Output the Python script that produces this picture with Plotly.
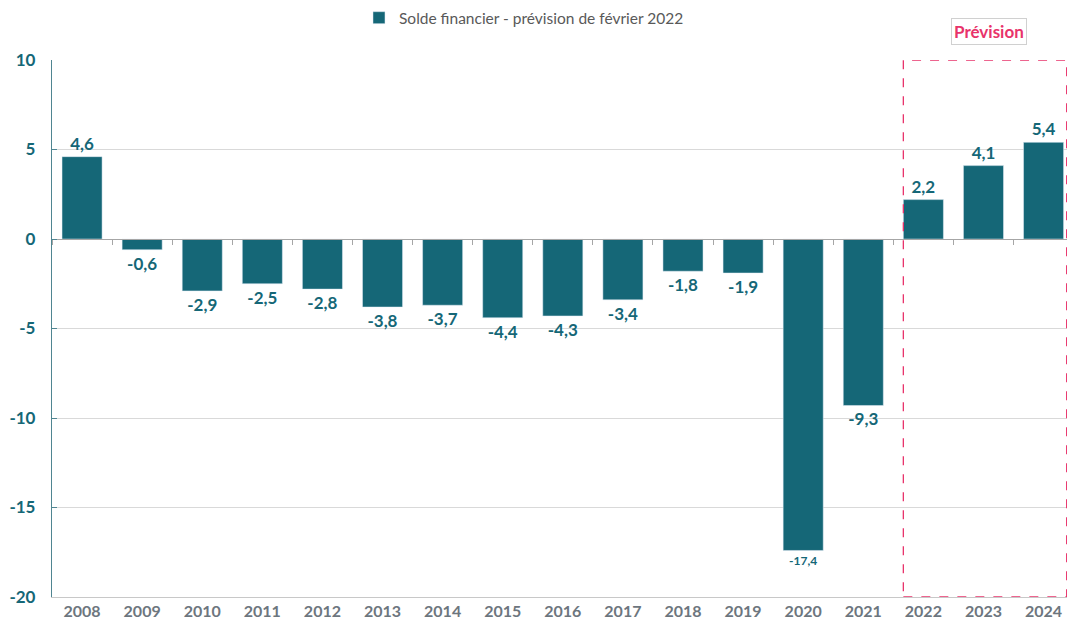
import plotly.graph_objects as go

years = ["2008", "2009", "2010", "2011", "2012", "2013", "2014", "2015", "2016",
         "2017", "2018", "2019", "2020", "2021", "2022", "2023", "2024"]
solde = [4.6, -0.6, -2.9, -2.5, -2.8, -3.8, -3.7, -4.4, -4.3,
         -3.4, -1.8, -1.9, -17.4, -9.3, 2.2, 4.1, 5.4]
y_ticks = [10, 5, 0, -5, -10, -15, -20]
label_sizes = [17 if abs(v) < 15 else 12 for v in solde]

TEAL = "#156777"
PINK = "#e8336b"
GREY_TXT = "#6d767e"
FONT = "Lato"

fig = go.Figure()

fig.add_trace(
    go.Bar(
        x=years,
        y=solde,
        name="Solde financier - prévision de février 2022",
        marker=dict(color=TEAL),
        texttemplate="%{y:.1f}",
        textposition="outside",
        textfont=dict(family=FONT, size=label_sizes, color=TEAL, weight="bold"),
        cliponaxis=False,
    )
)

# invisible trace so the zero-line axis (with boundary ticks) gets drawn
fig.add_trace(
    go.Scatter(x=years, y=[0] * len(years), xaxis="x2", mode="lines",
               line=dict(width=0), showlegend=False, hoverinfo="skip")
)

# forecast frame
fig.add_shape(
    type="rect", xref="x", yref="y",
    x0=14 - 1 / 3, x1=16.385, y0=-20, y1=10,
    line=dict(color=PINK, width=1.3, dash="dash"),
    layer="above",
)

fig.add_annotation(
    text="<b>Prévision</b>", xref="paper", yref="paper",
    x=0.923, y=1.054, xanchor="center", yanchor="middle", showarrow=False,
    font=dict(family=FONT, size=17, color=PINK),
    bordercolor="#d0d0d0", borderwidth=1, borderpad=2,
)

fig.update_layout(
    width=1067,
    height=628,
    margin=dict(l=52, r=0, t=60, b=31, autoexpand=False),
    plot_bgcolor="white",
    paper_bgcolor="white",
    separators=", ",
    bargap=1 / 3,
    font=dict(family=FONT),
    legend=dict(
        orientation="h", x=0.465, xanchor="center", y=1.078, yanchor="middle",
        font=dict(family=FONT, size=15.5, color="#595959"),
    ),
    xaxis=dict(
        type="category",
        range=[-0.5, 16.39],
        showgrid=False,
        showline=True,
        linecolor="#c8c8c8",
        linewidth=1,
        ticks="",
        tickfont=dict(family=FONT, size=16, color=GREY_TXT, weight="bold"),
    ),
    xaxis2=dict(
        type="category",
        overlaying="x",
        matches="x",
        anchor="free",
        position=2 / 3,
        showgrid=False,
        showline=True,
        linecolor="#a6a6a6",
        linewidth=1.3,
        ticks="outside",
        tickson="boundaries",
        ticklen=5,
        tickcolor="#a6a6a6",
        showticklabels=False,
    ),
    yaxis=dict(
        range=[-20, 10],
        tickvals=y_ticks,
        ticktext=[str(t) for t in y_ticks],
        showgrid=True,
        gridcolor="#d9d9d9",
        zeroline=False,
        showline=True,
        linecolor="#4f8591",
        linewidth=1.3,
        ticks="inside",
        ticklen=5,
        tickcolor="#4f8591",
        tickfont=dict(family=FONT, size=17, color=TEAL, weight="bold"),
        ticklabelstandoff=12,
    ),
)

# drop the default 8px body margin so the figure fills the window
fig.write_html(
    "out.html",
    config={"displayModeBar": False},
    post_script="document.body.style.margin='0';",
)
